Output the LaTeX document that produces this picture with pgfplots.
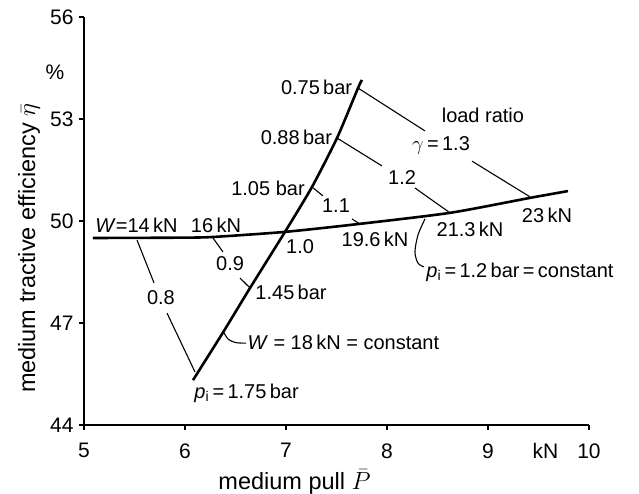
\documentclass[border=0pt]{standalone}
\usepackage{pgfplots}
\pgfplotsset{compat=1.18}
\usepackage{fontspec}
\setmainfont{Liberation Sans}

% annotation and label sizes
\newcommand\ann{\fontsize{20bp}{24bp}\selectfont}
\newcommand\lab{\fontsize{23.5bp}{27bp}\selectfont}
\newcommand\tck{\fontsize{21bp}{25bp}\selectfont}

\begin{document}
\begin{tikzpicture}
\begin{axis}[name=ax,
  scale only axis, width=505bp, height=408bp,
  xmin=5, xmax=10, ymin=44, ymax=56,
  axis x line=bottom, axis y line=left,
  axis line style={-, line width=1.6bp},
  xtick={5,6,7,8,9,10}, ytick={44,47,50,53,56},
  tick align=outside, major tick length=5bp,
  tick style={line width=1.4bp, black},
  extra x ticks={9.57}, extra x tick labels={kN},
  extra x tick style={major tick style={draw=none}},
  clip=false,
  /pgf/number format/assume math mode=true,
  tick label style={font=\tck},
  xticklabel style={yshift=-10bp},
  yticklabel style={xshift=-2bp},
  xlabel={medium pull $\bar{P}$},
  ylabel={medium tractive efficiency $\bar{\eta}$},
  label style={font=\lab},
  xlabel style={at={(axis description cs:0.417,-0.14)}, anchor=center},
  ylabel style={at={(axis description cs:-0.109,0.433)}, anchor=center},
]

% p_i = 1.2 bar = constant
\addplot[black, line width=2.6bp, smooth, tension=0.4] coordinates {
  (5.089,49.50) (5.95,49.51) (6.277,49.53) (6.990,49.68)
  (7.713,49.91) (8.624,50.24) (9.416,50.68) (9.792,50.88)};

% W = 18 kN = constant
\addplot[black, line width=2.6bp, smooth, tension=0.4] coordinates {
  (6.079,45.32) (6.38,46.74) (6.644,48.03) (6.990,49.68)
  (7.257,51.00) (7.505,52.44) (7.713,53.91) (7.752,54.15)};

% load ratio lines (broken around their values)
\addplot[black, line width=1.1bp] coordinates {(5.525,49.44) (5.693,48.18)};
\addplot[black, line width=1.1bp] coordinates {(5.822,47.29) (6.099,45.56)};
\addplot[black, line width=1.1bp] coordinates {(6.277,49.50) (6.376,49.09)};
\addplot[black, line width=1.1bp] coordinates {(6.545,48.32) (6.644,48.03)};
\addplot[black, line width=1.1bp] coordinates {(7.257,51.00) (7.366,50.74)};
\addplot[black, line width=1.1bp] coordinates {(7.653,50.06) (7.733,49.91)};
\addplot[black, line width=1.1bp] coordinates {(7.505,52.44) (7.950,51.62)};
\addplot[black, line width=1.1bp] coordinates {(8.277,50.97) (8.624,50.24)};
\addplot[black, line width=1.1bp] coordinates {(7.713,53.91) (8.376,52.65)};
\addplot[black, line width=1.1bp] coordinates {(8.842,51.76) (9.416,50.71)};

% leader curves to the constant-value labels
\addplot[black, line width=1.1bp, smooth] coordinates {
  (8.376,50.06) (8.307,49.59) (8.277,49.09) (8.307,48.76) (8.366,48.65)};
\addplot[black, line width=1.1bp, smooth] coordinates {
  (6.38,46.74) (6.43,46.52) (6.51,46.42) (6.604,46.41)};

% inflation pressures along W = 18 kN
\node[anchor=east, font=\ann] at (axis cs:7.69,53.94) {0.75\,bar};
\node[anchor=east, font=\ann] at (axis cs:7.49,52.47) {0.88\,bar};
\node[anchor=east, font=\ann] at (axis cs:7.22,50.97) {1.05 bar};
\node[anchor=west, font=\ann] at (axis cs:6.663,47.91) {1.45\,bar};
\node[anchor=base west, font=\ann] at (axis cs:6.059,44.79) {\textit{p}\textsubscript{i}\,=\,1.75\,bar};

% wheel loads along p_i = 1.2 bar
\node[anchor=west, font=\ann] at (axis cs:5.079,49.88) {\textit{W}=14\,kN};
\node[font=\ann] at (axis cs:6.307,49.88) {16\,kN};
\node[font=\ann] at (axis cs:7.881,49.47) {19.6\,kN};
\node[font=\ann] at (axis cs:8.822,49.74) {21.3\,kN};
\node[font=\ann] at (axis cs:9.584,50.18) {23\,kN};
\node[anchor=base west, font=\ann] at (axis cs:8.356,48.35) {\textit{p}\textsubscript{i}\,=\,1.2\,bar\,=\,constant};
\node[anchor=west, font=\ann] at (axis cs:6.584,46.44) {\textit{W} = 18\,kN = constant};

% load ratio values
\node[font=\ann] at (axis cs:5.762,47.76) {0.8};
\node[font=\ann] at (axis cs:6.446,48.76) {0.9};
\node[font=\ann] at (axis cs:7.139,49.26) {1.0};
\node[font=\ann] at (axis cs:7.495,50.44) {1.1};
\node[font=\ann] at (axis cs:8.149,51.29) {1.2};
\node[font=\ann] at (axis cs:8.535,52.21) {$\gamma$\,=\,1.3};
\node[font=\ann] at (axis cs:8.95,53.12) {load ratio};

% unit of the efficiency axis
\node[font=\tck] at (axis cs:4.713,54.38) {\%};
\end{axis}
\pgfresetboundingbox
\path ([xshift=-84bp,yshift=-69bp]ax.south west) rectangle ([xshift=50bp,yshift=17bp]ax.north east);
\end{tikzpicture}
\end{document}
